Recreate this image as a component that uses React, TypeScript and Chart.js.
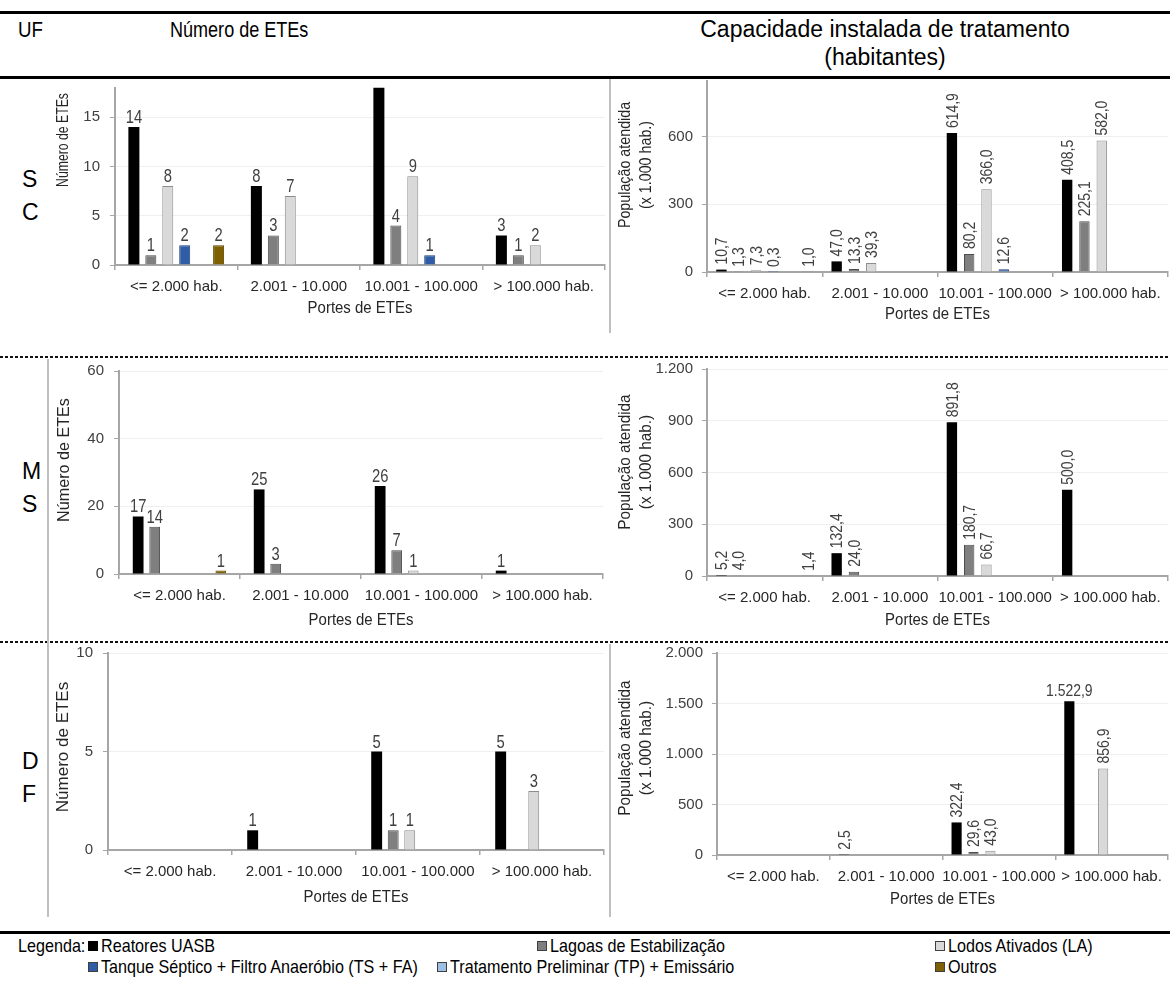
import React, { useEffect, useRef } from "react";
import { Chart, registerables } from "chart.js";

Chart.register(...registerables);

const FONT = '"Liberation Sans", Arial, sans-serif';
const AXIS = "#a6a6a6";
const GRID = "#efefef";

// ---------- categories / series ----------
const categories = ["<= 2.000 hab.", "2.001 - 10.000", "10.001 - 100.000", "> 100.000 hab."];
const seriesNames = [
  "Reatores UASB",
  "Lagoas de Estabilização",
  "Lodos Ativados (LA)",
  "Tanque Séptico + Filtro Anaeróbio (TS + FA)",
  "Tratamento Preliminar (TP) + Emissário",
  "Outros",
];
const seriesFill = ["#000000", "#7f7f7f", "#d9d9d9", "#2e5ca6", "#9dbfe3", "#7f6000"];
const seriesBorder = ["#000000", "#4d4d4d", "#8c8c8c", "#1f3f75", "#5a7fae", "#5a4400"];

// ---------- SC ----------
const scEtesUASB = [14, 8, 18, 3];
const scEtesLagoas = [1, 3, 4, 1];
const scEtesLA = [8, 7, 9, 2];
const scEtesTSFA = [2, null, 1, null];
const scEtesTP = [null, null, null, null];
const scEtesOutros = [2, null, null, null];
const scEtesTicks = [0, 5, 10, 15];

const scPopUASB = [10.7, 47.0, 614.9, 408.5];
const scPopLagoas = [1.3, 13.3, 80.2, 225.1];
const scPopLA = [7.3, 39.3, 366.0, 582.0];
const scPopTSFA = [0.3, null, 12.6, null];
const scPopTP = [null, null, null, null];
const scPopOutros = [1.0, null, null, null];
const scPopTicks = [0, 300, 600];

// ---------- MS ----------
const msEtesUASB = [17, 25, 26, 1];
const msEtesLagoas = [14, 3, 7, null];
const msEtesLA = [null, null, 1, null];
const msEtesTSFA = [null, null, null, null];
const msEtesTP = [null, null, null, null];
const msEtesOutros = [1, null, null, null];
const msEtesTicks = [0, 20, 40, 60];

const msPopUASB = [5.2, 132.4, 891.8, 500.0];
const msPopLagoas = [4.0, 24.0, 180.7, null];
const msPopLA = [null, null, 66.7, null];
const msPopTSFA = [null, null, null, null];
const msPopTP = [null, null, null, null];
const msPopOutros = [1.4, null, null, null];
const msPopTicks = [0, 300, 600, 900, 1200];

// ---------- DF ----------
const dfEtesUASB = [null, 1, 5, 5];
const dfEtesLagoas = [null, null, 1, null];
const dfEtesLA = [null, null, 1, 3];
const dfEtesTSFA = [null, null, null, null];
const dfEtesTP = [null, null, null, null];
const dfEtesOutros = [null, null, null, null];
const dfEtesTicks = [0, 5, 10];

const dfPopUASB = [null, 2.5, 322.4, 1522.9];
const dfPopLagoas = [null, null, 29.6, null];
const dfPopLA = [null, null, 43.0, 856.9];
const dfPopTSFA = [null, null, null, null];
const dfPopTP = [null, null, null, null];
const dfPopOutros = [null, null, null, null];
const dfPopTicks = [0, 500, 1000, 1500, 2000];

const ufRows = [
  ["S", "C"],
  ["M", "S"],
  ["D", "F"],
];

function fmt(v: number, dec: number): string {
  const s = v.toFixed(dec);
  const parts = s.split(".");
  const ip = parts[0].replace(/\B(?=(\d{3})+(?!\d))/g, ".");
  return parts.length > 1 ? ip + "," + parts[1] : ip;
}

const SQUEEZE = 0.82;

const valueLabelPlugin = {
  id: "valueLabels",
  afterDatasetsDraw(chart: any, _a: any, opts: any) {
    const ctx = chart.ctx;
    chart.data.datasets.forEach((ds: any, di: number) => {
      const meta = chart.getDatasetMeta(di);
      meta.data.forEach((el: any, i: number) => {
        const v = ds.data[i];
        if (v === null || v === undefined) return;
        const txt = fmt(v, opts.decimals);
        ctx.save();
        ctx.font = `${opts.size}px ${FONT}`;
        ctx.fillStyle = "#404040";
        const w = ctx.measureText(txt).width * SQUEEZE;
        const y0 = el.y - opts.gap;
        if (opts.rotate && v < 1000) {
          if (y0 - w >= 0) {
            ctx.translate(el.x + 1, y0);
            ctx.rotate(-Math.PI / 2);
            ctx.scale(SQUEEZE, 1);
            ctx.textAlign = "left";
            ctx.textBaseline = "middle";
            ctx.fillText(txt, 0, 0);
          }
        } else if (y0 - opts.size * 0.75 >= 0) {
          ctx.translate(el.x, y0);
          ctx.scale(SQUEEZE, 1);
          ctx.textAlign = "center";
          ctx.textBaseline = "alphabetic";
          ctx.fillText(txt, 0, 0);
        }
        ctx.restore();
      });
    });
  },
};

const axisTitlePlugin = {
  id: "axisTitles",
  afterDraw(chart: any, _a: any, opts: any) {
    const { ctx, chartArea } = chart;
    ctx.save();
    ctx.fillStyle = "#262626";
    ctx.textAlign = "center";
    ctx.textBaseline = "middle";
    ctx.font = `${opts.xSize}px ${FONT}`;
    ctx.save();
    ctx.translate((chartArea.left + chartArea.right) / 2, chartArea.bottom + opts.xDy);
    ctx.scale(0.88, 1);
    ctx.fillText(opts.xText, 0, 0);
    ctx.restore();
    ctx.translate(opts.yX, opts.yY);
    ctx.rotate(-Math.PI / 2);
    ctx.scale(opts.ySqueeze, 1);
    ctx.font = `${opts.ySize}px ${FONT}`;
    const lines = String(opts.yText).split("\n");
    const n = lines.length;
    lines.forEach((t: string, k: number) => ctx.fillText(t, 0, (k - (n - 1) / 2) * opts.yGap));
    ctx.restore();
  },
};

type Panel = {
  x: number; y: number; w: number; h: number;
  series: (number | null)[][];
  max: number; ticks: number[];
  yw: number; xh: number; padTop: number; padRight: number;
  catPct: number; barPct: number;
  yTitle: string; yX: number; yY: number; ySize: number; ySqueeze: number;
  xDy: number; rotate: boolean; decimals: number; labelSize: number;
  tickPad: number; catPad: number;
};

function buildConfig(p: Panel): any {
  const datasets = p.series.map((data, i) => ({
    label: seriesNames[i],
    data,
    backgroundColor: seriesFill[i],
    borderColor: seriesBorder[i],
    borderWidth: i === 0 ? 0 : 1,
    categoryPercentage: p.catPct,
    barPercentage: p.barPct,
  }));
  return {
    type: "bar",
    data: { labels: categories, datasets },
    plugins: [valueLabelPlugin, axisTitlePlugin],
    options: {
      animation: false,
      responsive: false,
      maintainAspectRatio: false,
      events: [],
      layout: { padding: { top: p.padTop, right: p.padRight, left: 0, bottom: 0 } },
      plugins: {
        legend: { display: false },
        tooltip: { enabled: false },
        valueLabels: { decimals: p.decimals, rotate: p.rotate, size: p.labelSize, gap: p.rotate ? 5 : 4 },
        axisTitles: {
          xText: "Portes de ETEs", xSize: 17, xDy: p.xDy,
          yText: p.yTitle, yX: p.yX, yY: p.yY, ySize: p.ySize, ySqueeze: p.ySqueeze, yGap: 21,
        },
      },
      scales: {
        x: {
          grid: { display: true, drawOnChartArea: false, offset: true, tickLength: 5, tickColor: AXIS, lineWidth: 1.5 },
          border: { display: true, color: AXIS, width: 2 },
          ticks: {
            font: { family: FONT, size: 15 },
            color: "#262626",
            padding: p.catPad,
            maxRotation: 0,
            minRotation: 0,
            autoSkip: false,
          },
          afterFit: (s: any) => {
            s.height = p.xh;
            s.paddingLeft = 0;
            s.paddingRight = 0;
          },
        },
        y: {
          min: 0,
          max: p.max,
          grid: { color: GRID, lineWidth: 1, tickLength: 5, tickColor: AXIS },
          border: { display: true, color: AXIS, width: 2 },
          ticks: {
            font: { family: FONT, size: 15 },
            color: "#404040",
            padding: p.tickPad,
            callback: (v: any) => fmt(Number(v), 0),
          },
          afterBuildTicks: (s: any) => { s.ticks = p.ticks.map((v) => ({ value: v })); },
          afterFit: (s: any) => {
            s.width = p.yw;
            s.paddingTop = 0;
            s.paddingBottom = 0;
          },
        },
      },
    },
  };
}

const ETES_TITLE = "Número de ETEs";
const POP_TITLE = "População atendida\n(x 1.000 hab.)";

const panels: Panel[] = [
  {
    x: 50, y: 80, w: 560, h: 250,
    series: [scEtesUASB, scEtesLagoas, scEtesLA, scEtesTSFA, scEtesTP, scEtesOutros],
    max: 18, ticks: scEtesTicks, yw: 65, xh: 65, padTop: 7.5, padRight: 5,
    catPct: 0.83, barPct: 0.65, yTitle: ETES_TITLE, yX: 13, yY: 60, ySize: 17, ySqueeze: 0.72,
    xDy: 43, rotate: false, decimals: 0, labelSize: 18, tickPad: 10, catPad: 8,
  },
  {
    x: 612, y: 80, w: 558, h: 250,
    series: [scPopUASB, scPopLagoas, scPopLA, scPopTSFA, scPopTP, scPopOutros],
    max: 850, ticks: scPopTicks, yw: 95, xh: 58, padTop: 0, padRight: 2,
    catPct: 0.9, barPct: 0.6, yTitle: POP_TITLE, yX: 24, yY: 85, ySize: 17, ySqueeze: 0.84,
    xDy: 42, rotate: true, decimals: 1, labelSize: 17, tickPad: 9, catPad: 8,
  },
  {
    x: 50, y: 360, w: 560, h: 277,
    series: [msEtesUASB, msEtesLagoas, msEtesLA, msEtesTSFA, msEtesTP, msEtesOutros],
    max: 60, ticks: msEtesTicks, yw: 69, xh: 63, padTop: 11, padRight: 7,
    catPct: 0.82, barPct: 0.65, yTitle: ETES_TITLE, yX: 14, yY: 100, ySize: 17, ySqueeze: 0.95,
    xDy: 46, rotate: false, decimals: 0, labelSize: 18, tickPad: 10, catPad: 8,
  },
  {
    x: 612, y: 360, w: 558, h: 277,
    series: [msPopUASB, msPopLagoas, msPopLA, msPopTSFA, msPopTP, msPopOutros],
    max: 1200, ticks: msPopTicks, yw: 95, xh: 61, padTop: 9, padRight: 2,
    catPct: 0.9, barPct: 0.6, yTitle: POP_TITLE, yX: 24, yY: 102, ySize: 17, ySqueeze: 0.9,
    xDy: 44, rotate: true, decimals: 1, labelSize: 17, tickPad: 9, catPad: 8,
  },
  {
    x: 50, y: 645, w: 560, h: 265,
    series: [dfEtesUASB, dfEtesLagoas, dfEtesLA, dfEtesTSFA, dfEtesTP, dfEtesOutros],
    max: 10, ticks: dfEtesTicks, yw: 58, xh: 60, padTop: 8, padRight: 6,
    catPct: 0.8, barPct: 0.66, yTitle: ETES_TITLE, yX: 13, yY: 102, ySize: 17, ySqueeze: 1.0,
    xDy: 47, rotate: false, decimals: 0, labelSize: 18, tickPad: 10, catPad: 8,
  },
  {
    x: 612, y: 645, w: 558, h: 265,
    series: [dfPopUASB, dfPopLagoas, dfPopLA, dfPopTSFA, dfPopTP, dfPopOutros],
    max: 2000, ticks: dfPopTicks, yw: 105, xh: 55, padTop: 8, padRight: 2,
    catPct: 0.9, barPct: 0.6, yTitle: POP_TITLE, yX: 24, yY: 103, ySize: 17, ySqueeze: 0.9,
    xDy: 44, rotate: true, decimals: 1, labelSize: 17, tickPad: 9, catPad: 8,
  },
];

function BarPanel({ p }: { p: Panel }) {
  const ref = useRef<HTMLCanvasElement | null>(null);
  useEffect(() => {
    if (!ref.current) return;
    const chart = new Chart(ref.current, buildConfig(p));
    return () => chart.destroy();
  }, [p]);
  return (
    <canvas
      ref={ref}
      width={p.w}
      height={p.h}
      style={{ position: "absolute", left: p.x, top: p.y, width: p.w, height: p.h }}
    />
  );
}

const legendItems = [
  { i: 0, x: 88, row: 0 },
  { i: 1, x: 537, row: 0 },
  { i: 2, x: 935, row: 0 },
  { i: 3, x: 88, row: 1 },
  { i: 4, x: 437, row: 1 },
  { i: 5, x: 935, row: 1 },
];

const abs = (s: any) => ({ position: "absolute" as const, ...s });

const narrowText = (sx: number) => ({
  display: "inline-block",
  transform: `scaleX(${sx})`,
  transformOrigin: "left center",
  whiteSpace: "nowrap" as const,
});

export default function App() {
  const rowY = [946, 967];
  return (
    <div style={abs({ left: 0, top: 0, width: 1170, height: 988, background: "#fff", overflow: "hidden", fontFamily: FONT, color: "#000" })}>
      {/* table rules */}
      <div style={abs({ left: 0, top: 11, width: 1170, height: 3, background: "#000" })} />
      <div style={abs({ left: 0, top: 76, width: 1170, height: 3, background: "#000" })} />
      <div style={abs({ left: 0, top: 931, width: 1170, height: 3, background: "#000" })} />
      {[356, 641].map((y) => (
        <div key={y} style={abs({ left: 0, top: y, width: 1170, height: 2, background: "repeating-linear-gradient(to right, #111 0 3px, transparent 3px 5px)" })} />
      ))}
      <div style={abs({ left: 47, top: 359, width: 2, height: 558, background: "#bfbfbf" })} />
      <div style={abs({ left: 609, top: 79, width: 2, height: 254, background: "#bfbfbf" })} />
      <div style={abs({ left: 609, top: 644, width: 2, height: 273, background: "#bfbfbf" })} />

      {/* header */}
      <div style={abs({ left: 18, top: 16, fontSize: 22, lineHeight: "28px" })}>
        <span style={narrowText(0.85)}>UF</span>
      </div>
      <div style={abs({ left: 170, top: 16, fontSize: 22, lineHeight: "28px" })}>
        <span style={narrowText(0.82)}>Número de ETEs</span>
      </div>
      <div style={abs({ left: 885, top: 15, fontSize: 23, lineHeight: "28px", width: 0 })}>
        <div style={abs({ left: 0, top: 0, transform: "translateX(-50%)", whiteSpace: "nowrap", textAlign: "center" })}>
          Capacidade instalada de tratamento
          <br />
          (habitantes)
        </div>
      </div>

      {/* UF column */}
      {ufRows.map((letters, r) => (
        <div key={r} style={abs({ left: 22, top: [163, 455, 745][r], fontSize: 23, lineHeight: "33px" })}>
          {letters[0]}
          <br />
          {letters[1]}
        </div>
      ))}

      {panels.map((p, k) => (
        <BarPanel key={k} p={p} />
      ))}

      {/* legend */}
      <div style={abs({ left: 18, top: rowY[0] - 11, fontSize: 19, lineHeight: "22px" })}>
        <span style={narrowText(0.85)}>Legenda:</span>
      </div>
      {legendItems.map((it) => (
        <div key={it.i} style={abs({ left: it.x, top: rowY[it.row] - 11, height: 22, display: "flex", alignItems: "center", fontSize: 19, whiteSpace: "nowrap" })}>
          <span style={{ display: "inline-block", width: 8, height: 8, background: seriesFill[it.i], border: `1px solid ${it.i === 0 ? "#000" : "#404040"}`, marginRight: 3, flex: "none" }} />
          <span style={narrowText(0.85)}>{seriesNames[it.i]}</span>
        </div>
      ))}
    </div>
  );
}
